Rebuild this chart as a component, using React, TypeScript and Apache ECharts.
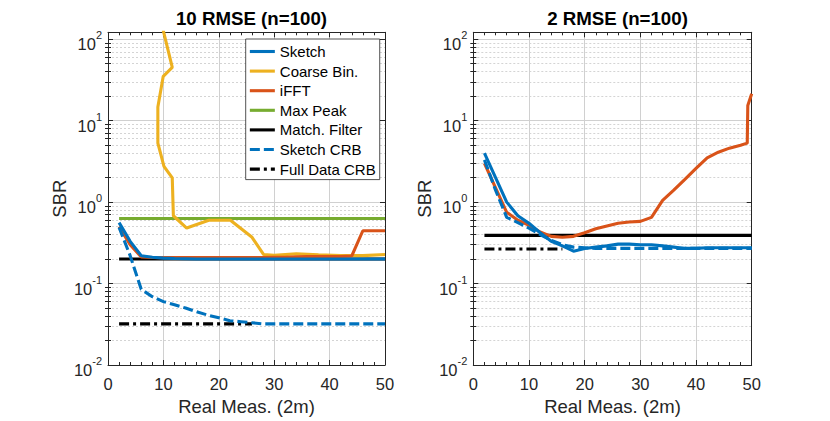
import React, { useEffect, useRef } from "react";
import * as echarts from "echarts";

// ---------- data ----------
const meas = [2, 4, 6, 8, 10, 12, 14, 16, 18, 20, 22, 24, 26, 28, 30, 32, 34, 36, 38, 40, 42, 44, 46, 48, 50];

// Left panel: 10 RMSE (n=100)
const sketch10 = [0.56, 0.33, 0.22, 0.21, 0.205, 0.203, 0.202, 0.2, 0.2, 0.2, 0.2, 0.2, 0.2, 0.2, 0.2, 0.2, 0.2, 0.2, 0.2, 0.2, 0.2, 0.2, 0.2, 0.2, 0.2];
const coarseX10 = [9.95, 11.6, 9.97, 9.0, 9.0, 10.1, 11.6, 11.8, 14.2, 18.2, 22.1, 26.0, 28.1, 30, 34, 38, 42, 46, 50];
const coarseY10 = [130, 45, 35, 14.7, 5.3, 2.75, 1.98, 0.68, 0.48, 0.6, 0.6, 0.37, 0.227, 0.222, 0.232, 0.225, 0.22, 0.22, 0.227];
const ifft10 = [0.5, 0.3, 0.212, 0.209, 0.208, 0.208, 0.208, 0.208, 0.208, 0.208, 0.208, 0.208, 0.208, 0.208, 0.21, 0.21, 0.213, 0.215, 0.215, 0.215, 0.215, 0.218, 0.445, 0.445, 0.445];
const maxPeak10 = [0.63, 0.63, 0.63, 0.63, 0.63, 0.63, 0.63, 0.63, 0.63, 0.63, 0.63, 0.63, 0.63, 0.63, 0.63, 0.63, 0.63, 0.63, 0.63, 0.63, 0.63, 0.63, 0.63, 0.63, 0.63];
const matchFilter10 = [0.2, 0.2, 0.2, 0.2, 0.2, 0.2, 0.2, 0.2, 0.2, 0.2, 0.2, 0.2, 0.2, 0.2, 0.2, 0.2, 0.2, 0.2, 0.2, 0.2, 0.2, 0.2, 0.2, 0.2, 0.2];
const sketchCRB10 = [0.49, 0.22, 0.085, 0.069, 0.06, 0.055, 0.05, 0.045, 0.041, 0.038, 0.035, 0.034, 0.033, 0.032, 0.032, 0.032, 0.032, 0.032, 0.032, 0.032, 0.032, 0.032, 0.032, 0.032, 0.032];
const fullCRBX10 = [2, 4, 6, 8, 10, 12, 14, 16, 18, 20, 22, 24, 26];
const fullCRB10 = [0.032, 0.032, 0.032, 0.032, 0.032, 0.032, 0.032, 0.032, 0.032, 0.032, 0.032, 0.032, 0.032];

// Right panel: 2 RMSE (n=100)
const sketch2 = [4.0, 2.0, 1.0, 0.68, 0.55, 0.42, 0.33, 0.29, 0.25, 0.27, 0.28, 0.29, 0.305, 0.305, 0.3, 0.3, 0.29, 0.28, 0.27, 0.27, 0.275, 0.275, 0.275, 0.275, 0.275];
const ifftX2 = [2, 4, 6, 8, 10, 12, 14, 16, 18, 20, 22, 24, 26, 28, 30, 32, 34, 36, 38, 40, 42, 44, 46, 48, 49.2, 49.3, 50];
const ifftY2 = [3.0, 1.5, 0.75, 0.6, 0.52, 0.43, 0.38, 0.37, 0.38, 0.42, 0.47, 0.51, 0.55, 0.57, 0.58, 0.65, 1.05, 1.4, 1.9, 2.6, 3.5, 4.1, 4.6, 5.0, 5.3, 15.4, 21.4];
const matchFilter2 = [0.39, 0.39, 0.39, 0.39, 0.39, 0.39, 0.39, 0.39, 0.39, 0.39, 0.39, 0.39, 0.39, 0.39, 0.39, 0.39, 0.39, 0.39, 0.39, 0.39, 0.39, 0.39, 0.39, 0.39, 0.39];
const sketchCRB2 = [3.3, 1.4, 0.65, 0.56, 0.48, 0.4, 0.34, 0.3, 0.28, 0.275, 0.27, 0.27, 0.27, 0.27, 0.27, 0.27, 0.27, 0.27, 0.27, 0.27, 0.27, 0.27, 0.27, 0.27, 0.27];
const fullCRBX2 = [2, 4, 6, 8, 10, 12, 14, 16];
const fullCRB2 = [0.266, 0.266, 0.266, 0.266, 0.266, 0.266, 0.266, 0.266];

const titles = ["10 RMSE (n=100)", "2 RMSE (n=100)"];
const legendNames = ["Sketch", "Coarse Bin.", "iFFT", "Max Peak", "Match. Filter", "Sketch CRB", "Full Data CRB"];
const xLabel = "Real Meas. (2m)";
const yLabel = "SBR";
const yMajor = [0.01, 0.1, 1, 10, 100];
const yMinorMult = [2, 3, 4, 5, 6, 7, 8, 9];

// ---------- styling ----------
const FONT = "'Liberation Sans', Arial, Helvetica, sans-serif";
const AX = "#262626";
const C_BLUE = "#0072BD";
const C_ORANGE = "#D95319";
const C_YELLOW = "#EDB120";
const C_GREEN = "#77AC30";
const C_BLACK = "#000000";
const LW = 3.1;

const zip = (xs: number[], ys: number[]) => xs.map((x, i) => [x, ys[i]]);

function buildOption() {
  const minorVals: number[] = [];
  yMajor.forEach((m) => {
    if (m < 100) yMinorMult.forEach((k) => minorVals.push(+(m * k).toPrecision(6)));
  });

  const grids = [
    { left: 108, top: 32.3, width: 277, height: 336 },
    { left: 473.3, top: 32.3, width: 278.4, height: 336 },
  ];
  const yMin = 0.01;
  const yMax = 121.6;

  const xMain = grids.map((_, i) => ({
    type: "value",
    gridIndex: i,
    min: 0,
    max: 50,
    interval: 10,
    position: "bottom",
    axisLine: { show: true, onZero: false, lineStyle: { color: AX, width: 1 } },
    axisTick: { show: true, inside: true, length: 5, lineStyle: { color: AX } },
    minorTick: { show: true, splitNumber: 5, length: 3, lineStyle: { color: AX } },
    axisLabel: { margin: 10, fontSize: 16.5, color: AX, fontFamily: FONT },
    splitLine: { show: true, lineStyle: { color: "#d0d0d0", width: 1 } },
    name: xLabel,
    nameLocation: "middle",
    nameGap: 32,
    nameTextStyle: { fontSize: 18.5, color: AX, fontFamily: FONT },
  }));
  const xTop = grids.map((_, i) => ({
    type: "value",
    gridIndex: i,
    min: 0,
    max: 50,
    interval: 10,
    position: "top",
    axisLine: { show: true, onZero: false, lineStyle: { color: AX, width: 1 } },
    axisTick: { show: true, inside: true, length: 5, lineStyle: { color: AX } },
    minorTick: { show: true, splitNumber: 5, length: 3, lineStyle: { color: AX } },
    axisLabel: { show: false },
    splitLine: { show: false },
  }));

  const yMain = grids.map((_, i) => ({
    type: "log",
    logBase: 10,
    gridIndex: i,
    min: yMin,
    max: yMax,
    position: "left",
    axisLine: { show: true, onZero: false, lineStyle: { color: AX, width: 1 } },
    axisTick: { show: true, inside: true, length: 5, lineStyle: { color: AX } },
    axisLabel: {
      margin: 6,
      showMaxLabel: false,
      color: AX,
      fontFamily: FONT,
      formatter: (v: number) => {
        const e = Math.log10(v);
        const r = Math.round(e);
        if (Math.abs(e - r) > 1e-6) return "";
        return `{b|10}{s|${r}}`;
      },
      rich: {
        b: { fontSize: 16.5, color: AX, fontFamily: FONT, padding: [10, 0, 0, 0] },
        s: { fontSize: 11, color: AX, fontFamily: FONT, verticalAlign: "top", padding: [4, 0, 0, 0] },
      },
    },
    splitLine: { show: true, lineStyle: { color: "#d0d0d0", width: 1 } },
    name: yLabel,
    nameLocation: "middle",
    nameRotate: 90,
    nameGap: 39,
    nameTextStyle: { fontSize: 18.5, color: AX, fontFamily: FONT },
  }));
  const yMinorLeft = grids.map((_, i) => ({
    type: "log",
    logBase: 10,
    gridIndex: i,
    min: yMin,
    max: yMax,
    position: "left",
    axisLine: { show: false },
    axisTick: { show: true, inside: true, length: 3, customValues: minorVals, lineStyle: { color: AX } },
    axisLabel: { show: false },
    splitLine: { show: true, lineStyle: { color: "#d4d4d4", width: 1, type: [2, 2] } },
  }));
  const yRightMajor = grids.map((_, i) => ({
    type: "log",
    logBase: 10,
    gridIndex: i,
    min: yMin,
    max: yMax,
    position: "right",
    axisLine: { show: true, onZero: false, lineStyle: { color: AX, width: 1 } },
    axisTick: { show: true, inside: true, length: 5, customValues: yMajor, lineStyle: { color: AX } },
    axisLabel: { show: false },
    splitLine: { show: false },
  }));
  const yRightMinor = grids.map((_, i) => ({
    type: "log",
    logBase: 10,
    gridIndex: i,
    min: yMin,
    max: yMax,
    position: "right",
    axisLine: { show: false },
    axisTick: { show: true, inside: true, length: 3, customValues: minorVals, lineStyle: { color: AX } },
    axisLabel: { show: false },
    splitLine: { show: false },
  }));

  const line = (name: string, g: number, data: number[][], color: string, type: any = "solid", z = 2) => ({
    type: "line",
    name,
    xAxisIndex: g,
    yAxisIndex: g,
    data,
    symbol: "none",
    showSymbol: false,
    clip: true,
    z,
    lineStyle: { color, width: LW, type, cap: "butt" },
    itemStyle: { color },
    emphasis: { disabled: true },
  });

  const dash: any = [10, 4];
  const dashDot: any = [10, 4, 3, 4];

  const series = [
    // left
    line("Max Peak", 0, zip(meas, maxPeak10), C_GREEN),
    line("Match. Filter", 0, zip(meas, matchFilter10), C_BLACK),
    line("Full Data CRB", 0, zip(fullCRBX10, fullCRB10), C_BLACK, dashDot),
    line("Coarse Bin.", 0, zip(coarseX10, coarseY10), C_YELLOW),
    line("iFFT", 0, zip(meas, ifft10), C_ORANGE),
    line("Sketch CRB", 0, zip(meas, sketchCRB10), C_BLUE, dash),
    line("Sketch", 0, zip(meas, sketch10), C_BLUE),
    // right
    line("Match. Filter", 1, zip(meas, matchFilter2), C_BLACK),
    line("Full Data CRB", 1, zip(fullCRBX2, fullCRB2), C_BLACK, dashDot),
    line("iFFT", 1, zip(ifftX2, ifftY2), C_ORANGE),
    line("Sketch CRB", 1, zip(meas, sketchCRB2), C_BLUE, dash),
    line("Sketch", 1, zip(meas, sketch2), C_BLUE),
  ];

  return {
    animation: false,
    backgroundColor: "#ffffff",
    textStyle: { fontFamily: FONT },
    title: titles.map((t, i) => ({
      text: t,
      left: grids[i].left + grids[i].width / 2,
      top: 4,
      textAlign: "center",
      textStyle: { fontSize: 18.7, fontWeight: "bold", color: "#000", fontFamily: FONT },
    })),
    grid: grids.map((g) => ({ ...g, containLabel: false })),
    xAxis: [...xMain, ...xTop],
    yAxis: [...yMain, ...yMinorLeft, ...yRightMajor, ...yRightMinor],
    legend: {
      data: legendNames,
      orient: "vertical",
      left: 245.7,
      top: 39,
      padding: [5, 4, 3, 2.6],
      itemGap: 4.6,
      itemWidth: 25,
      itemHeight: 14,
      backgroundColor: "#ffffff",
      borderColor: AX,
      borderWidth: 0.8,
      borderRadius: 0,
      selectedMode: false,
      itemStyle: { opacity: 0, borderWidth: 0 },
      lineStyle: { width: LW },
      textStyle: { fontSize: 15, lineHeight: 14, color: "#000", fontFamily: FONT },
    },
    series,
  };
}

export default function App() {
  const ref = useRef<HTMLDivElement>(null);
  useEffect(() => {
    if (!ref.current) return;
    const chart = echarts.init(ref.current, null, { renderer: "svg" });
    chart.setOption(buildOption() as any);
    return () => chart.dispose();
  }, []);
  return (
    <div
      ref={ref}
      style={{ position: "absolute", left: 0, top: 0, width: 830, height: 421, background: "#fff" }}
    />
  );
}
